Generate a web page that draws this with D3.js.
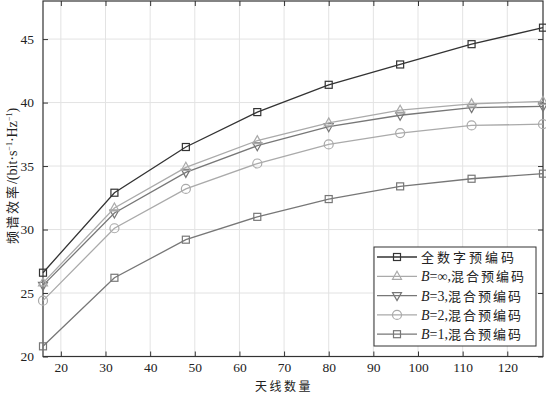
<!DOCTYPE html>
<html>
<head>
<meta charset="utf-8">
<script src="https://cdn.jsdelivr.net/npm/d3@7"></script>
<style>
  body { margin: 0; background: #fff; }
  .cjk { font-family: "Noto Sans CJK SC", sans-serif; }
</style>
</head>
<body>
<div id="chart"></div>
<script>
// data
const antennas = [16, 32, 48, 64, 80, 96, 112, 128];
const fullDigital = [26.6, 32.9, 36.5, 39.25, 41.4, 43.0, 44.6, 45.9];
const hybridInf   = [25.8, 31.7, 34.9, 37.0, 38.4, 39.4, 39.9, 40.1];
const hybridB3    = [25.6, 31.3, 34.5, 36.6, 38.1, 39.0, 39.6, 39.7];
const hybridB2    = [24.4, 30.1, 33.2, 35.2, 36.7, 37.6, 38.2, 38.3];
const hybridB1    = [20.8, 26.2, 29.2, 31.0, 32.4, 33.4, 34.0, 34.4];
const xTicks = [20, 30, 40, 50, 60, 70, 80, 90, 100, 110, 120];
const yTicks = [20, 25, 30, 35, 40, 45];

// series table
const series = [
  { name: "全数字预编码", b: null, values: fullDigital, color: "#333", marker: "square" },
  { name: "混合预编码", b: "∞", values: hybridInf, color: "#aaa", marker: "triUp" },
  { name: "混合预编码", b: "3", values: hybridB3, color: "#777", marker: "triDown" },
  { name: "混合预编码", b: "2", values: hybridB2, color: "#aaa", marker: "circle" },
  { name: "混合预编码", b: "1", values: hybridB1, color: "#777", marker: "square" }
];

const serif = "Liberation Serif, Times New Roman, serif";
const W = 546, H = 395;
const margin = { top: 1, right: 3, bottom: 38.5, left: 43 };
const width = W - margin.left - margin.right,
      height = H - margin.top - margin.bottom;

const svg = d3.select("#chart").append("svg")
    .attr("width", W).attr("height", H);
const g = svg.append("g")
    .attr("transform", `translate(${margin.left},${margin.top})`);

const x = d3.scaleLinear().domain([16, 128]).range([0, width]);
const y = d3.scaleLinear().domain([20, 48]).range([height, 0]);

// grid
g.append("g").selectAll("line").data(xTicks).join("line")
    .attr("x1", d => x(d)).attr("x2", d => x(d))
    .attr("y1", 0).attr("y2", height)
    .attr("stroke", "#e3e3e3").attr("stroke-width", 1);
g.append("g").selectAll("line").data(yTicks).join("line")
    .attr("x1", 0).attr("x2", width)
    .attr("y1", d => y(d)).attr("y2", d => y(d))
    .attr("stroke", "#e3e3e3").attr("stroke-width", 1);

// axes, ticks pointing inward
const axisStyle = sel => {
  sel.attr("font-family", serif).attr("font-size", 13.5);
  sel.select(".domain").remove();
  sel.selectAll(".tick line").attr("stroke", "#333");
  sel.selectAll(".tick text").attr("fill", "#222");
};
g.append("g").attr("transform", `translate(0,${height})`)
    .call(d3.axisBottom(x).tickValues(xTicks).tickSizeInner(-5).tickSizeOuter(0).tickPadding(6))
    .call(axisStyle);
g.append("g")
    .call(d3.axisLeft(y).tickValues(yTicks).tickSizeInner(-5).tickSizeOuter(0).tickPadding(9))
    .call(axisStyle);
g.append("g")
    .call(d3.axisTop(x).tickValues(xTicks).tickSizeInner(-5).tickSizeOuter(0).tickFormat(""))
    .call(axisStyle);
g.append("g").attr("transform", `translate(${width},0)`)
    .call(d3.axisRight(y).tickValues(yTicks).tickSizeInner(-5).tickSizeOuter(0).tickFormat(""))
    .call(axisStyle);

// frame
g.append("rect")
    .attr("width", width).attr("height", height)
    .attr("fill", "none").attr("stroke", "#333").attr("stroke-width", 1.2);

// marker drawing
function drawMarker(sel, type, color) {
  if (type === "square") {
    sel.append("rect").attr("x", -3.5).attr("y", -3.5).attr("width", 7).attr("height", 7)
      .attr("fill", "none").attr("stroke", color).attr("stroke-width", 1.2);
  } else if (type === "circle") {
    sel.append("circle").attr("r", 4.5)
      .attr("fill", "none").attr("stroke", color).attr("stroke-width", 1.2);
  } else {
    const s = type === "triUp" ? -1 : 1;
    sel.append("path").attr("d", `M0,${5 * s}L4.5,${-3 * s}L-4.5,${-3 * s}Z`)
      .attr("fill", "none").attr("stroke", color).attr("stroke-width", 1.2);
  }
}

const line = d3.line().x((d, i) => x(antennas[i])).y(d => y(d));

// draw lower series first so dark line sits on top
series.slice().reverse().forEach(s => {
  const sg = g.append("g");
  sg.append("path").datum(s.values)
    .attr("d", line).attr("fill", "none")
    .attr("stroke", s.color).attr("stroke-width", 1.3);
  sg.selectAll("g.pt").data(s.values).join("g")
    .attr("class", "pt")
    .attr("transform", (d, i) => `translate(${x(antennas[i])},${y(d)})`)
    .each(function() { drawMarker(d3.select(this), s.marker, s.color); });
});

// legend
const lg = svg.append("g").attr("transform", "translate(374,247)");
lg.append("rect").attr("width", 162).attr("height", 99)
    .attr("fill", "#fff").attr("stroke", "#333").attr("stroke-width", 1);
series.forEach((s, i) => {
  const ry = 10 + i * 19.3;
  const row = lg.append("g").attr("transform", `translate(0,${ry})`);
  row.append("line").attr("x1", 3).attr("x2", 43).attr("y1", 0).attr("y2", 0)
    .attr("stroke", s.color).attr("stroke-width", 1.3);
  drawMarker(row.append("g").attr("transform", "translate(23,0)"), s.marker, s.color);
  const t = row.append("text").attr("x", 47).attr("y", 5)
    .attr("font-size", 13).attr("fill", "#222");
  if (s.b === null) {
    t.append("tspan").attr("class", "cjk").attr("letter-spacing", 3).text(s.name);
  } else {
    t.append("tspan").attr("font-family", serif).attr("font-size", 14).attr("font-style", "italic").text("B");
    t.append("tspan").attr("font-family", serif).attr("font-size", 14).text("=" + s.b + ",");
    t.append("tspan").attr("class", "cjk").attr("letter-spacing", 2).text(s.name);
  }
});

// axis labels
svg.append("text")
    .attr("class", "cjk")
    .attr("x", margin.left + x(70)).attr("y", 391)
    .attr("text-anchor", "middle").attr("font-size", 12).attr("fill", "#222")
    .attr("letter-spacing", 2.5)
    .text("天线数量");

const yl = svg.append("text")
    .attr("transform", "translate(17,176) rotate(-90)")
    .attr("text-anchor", "middle").attr("font-size", 13).attr("fill", "#222");
yl.append("tspan").attr("class", "cjk").attr("letter-spacing", 2).text("频谱效率");
yl.append("tspan").attr("font-family", serif).attr("font-size", 14).text("/(bit·s");
yl.append("tspan").attr("font-family", serif).attr("font-size", 8).attr("dy", -5).text("−1");
yl.append("tspan").attr("font-family", serif).attr("font-size", 14).attr("dy", 5).text("·Hz");
yl.append("tspan").attr("font-family", serif).attr("font-size", 8).attr("dy", -5).text("−1");
yl.append("tspan").attr("font-family", serif).attr("font-size", 14).attr("dy", 5).text(")");
</script>
</body>
</html>
